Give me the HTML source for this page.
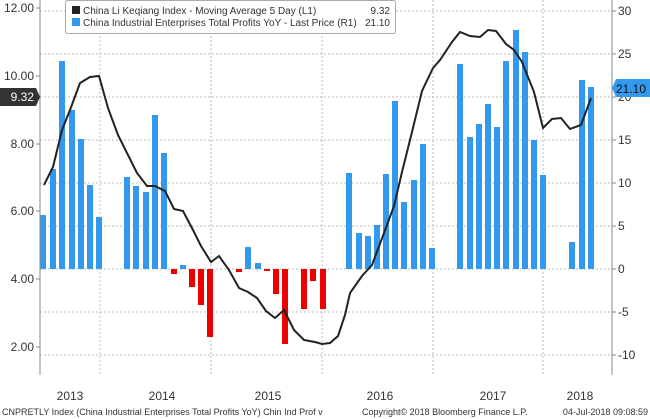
<!DOCTYPE html>
<html><head><style>
body{margin:0;background:#fff;}
svg{display:block;font-family:"Liberation Sans",sans-serif;}
</style></head><body>
<svg width="650" height="419" viewBox="0 0 650 419">
<rect width="650" height="419" fill="#fff"/>
<g stroke="#bbb" stroke-width="1" stroke-dasharray="2,2">
<line x1="40" x2="612" y1="11" y2="11"/><line x1="40" x2="612" y1="54" y2="54"/>
<line x1="40" x2="612" y1="97" y2="97"/><line x1="40" x2="612" y1="140" y2="140"/>
<line x1="40" x2="612" y1="183" y2="183"/><line x1="40" x2="612" y1="226" y2="226"/>
<line x1="40" x2="612" y1="269" y2="269"/><line x1="40" x2="612" y1="312" y2="312"/>
<line x1="40" x2="612" y1="355" y2="355"/>
<line x1="100" x2="100" y1="0" y2="375"/><line x1="211" x2="211" y1="0" y2="375"/>
<line x1="322" x2="322" y1="0" y2="375"/><line x1="433" x2="433" y1="0" y2="375"/>
<line x1="543" x2="543" y1="0" y2="375"/>
</g>
<g fill="#3399ee">
<rect x="40" y="215" width="6" height="54"/><rect x="50" y="169" width="6" height="100"/>
<rect x="59" y="61" width="6" height="208"/><rect x="69" y="110" width="6" height="159"/>
<rect x="78" y="139" width="6" height="130"/><rect x="87" y="185" width="6" height="84"/>
<rect x="96" y="217" width="6" height="52"/>
<rect x="124" y="177" width="6" height="92"/><rect x="133" y="186" width="6" height="83"/>
<rect x="143" y="192" width="6" height="77"/><rect x="152" y="115" width="6" height="154"/>
<rect x="161" y="153" width="6" height="116"/>
<rect x="180" y="265" width="6" height="4"/>
<rect x="245" y="247" width="6" height="22"/><rect x="255" y="263" width="6" height="6"/>
<rect x="346" y="173" width="6" height="96"/><rect x="356" y="233" width="6" height="36"/>
<rect x="365" y="236" width="6" height="33"/><rect x="374" y="225" width="6" height="44"/>
<rect x="383" y="174" width="6" height="95"/><rect x="392" y="101" width="6" height="168"/>
<rect x="401" y="202" width="6" height="67"/><rect x="411" y="180" width="6" height="89"/>
<rect x="420" y="144" width="6" height="125"/><rect x="429" y="248" width="6" height="21"/>
<rect x="457" y="64" width="6" height="205"/><rect x="467" y="137" width="6" height="132"/>
<rect x="476" y="124" width="6" height="145"/><rect x="485" y="104" width="6" height="165"/>
<rect x="494" y="127" width="6" height="142"/><rect x="503" y="61" width="6" height="208"/>
<rect x="513" y="30" width="6" height="239"/><rect x="522" y="52" width="6" height="217"/>
<rect x="531" y="140" width="6" height="129"/><rect x="540" y="175" width="6" height="94"/>
<rect x="569" y="242" width="6" height="27"/><rect x="579" y="80" width="6" height="189"/>
<rect x="588" y="87" width="6" height="182"/>
</g>
<g fill="#ee0000">
<rect x="171" y="269" width="6" height="5"/><rect x="189" y="269" width="6" height="18"/>
<rect x="198" y="269" width="6" height="36"/><rect x="207" y="269" width="6" height="68"/>
<rect x="236" y="269" width="6" height="3"/><rect x="264" y="269" width="6" height="2"/>
<rect x="273" y="269" width="6" height="25"/><rect x="282" y="269" width="6" height="75"/>
<rect x="301" y="269" width="6" height="40"/><rect x="310" y="269" width="6" height="12"/>
<rect x="320" y="269" width="6" height="40"/>
</g>
<polyline fill="none" stroke="#222" stroke-width="2" points="44,185 53,167 62,130 70,110 80,83 90,77 99,76 108,108 118,135 128,155 137,173 147,186 155,186 165,191 174,209 183,211 193,230 201,246 211,262 219,256 229,270 239,288 248,292 257,298 266,311 275,318 284,310 294,330 304,340 315,342 322,344 330,343 338,336 345,315 350,293 362,276 372,265 384,233 394,206 402,172 412,132 422,91 433,68 440,60 452,42 460,32 470,36 480,37 488,30 496,31 506,44 514,50 522,62 534,92 543,128 552,119 561,118 570,129 581,125 591,98"/>
<g stroke="#888" stroke-width="1">
<line x1="40" x2="40" y1="0" y2="375"/><line x1="612" x2="612" y1="0" y2="375"/>
<line x1="36" x2="40" y1="8" y2="8"/><line x1="36" x2="40" y1="76" y2="76"/>
<line x1="36" x2="40" y1="144" y2="144"/><line x1="36" x2="40" y1="211" y2="211"/>
<line x1="36" x2="40" y1="279" y2="279"/><line x1="36" x2="40" y1="347" y2="347"/>
<line x1="612" x2="616" y1="11" y2="11"/><line x1="612" x2="616" y1="54" y2="54"/>
<line x1="612" x2="616" y1="97" y2="97"/><line x1="612" x2="616" y1="140" y2="140"/>
<line x1="612" x2="616" y1="183" y2="183"/><line x1="612" x2="616" y1="226" y2="226"/>
<line x1="612" x2="616" y1="269" y2="269"/><line x1="612" x2="616" y1="312" y2="312"/>
<line x1="612" x2="616" y1="355" y2="355"/>
</g>
<g font-size="12" fill="#333" text-anchor="end">
<text x="34" y="12">12.00</text><text x="34" y="80">10.00</text>
<text x="34" y="148">8.00</text><text x="34" y="215">6.00</text>
<text x="34" y="283">4.00</text><text x="34" y="351">2.00</text>
</g>
<g font-size="12" fill="#333">
<text x="618" y="15">30</text><text x="618" y="58">25</text><text x="618" y="101">20</text>
<text x="618" y="144">15</text><text x="618" y="187">10</text><text x="618" y="230">5</text>
<text x="618" y="273">0</text><text x="618" y="316">-5</text><text x="618" y="359">-10</text>
</g>
<path d="M0,88 H36 L40,97 L36,106 H0 Z" fill="#333"/>
<text x="34" y="101" font-size="12" fill="#fff" text-anchor="end">9.32</text>
<path d="M616,79 H650 V97 H616 L612,88 Z" fill="#3399ee"/>
<text x="616" y="93" font-size="12" fill="#111">21.10</text>
<rect x="65.5" y="0.5" width="330" height="33" fill="#fff" stroke="#aaa" rx="2"/>
<rect x="72" y="6" width="8" height="8" fill="#222"/>
<rect x="72" y="18" width="8" height="8" fill="#3399ee"/>
<g font-size="10" fill="#333">
<text x="83" y="14">China Li Keqiang Index - Moving Average 5 Day (L1)</text>
<text x="83" y="26">China Industrial Enterprises Total Profits YoY - Last Price (R1)</text>
<text x="390" y="14" text-anchor="end">9.32</text>
<text x="390" y="26" text-anchor="end">21.10</text>
</g>
<g font-size="12" fill="#333" text-anchor="middle">
<text x="70" y="400">2013</text><text x="162" y="400">2014</text><text x="268" y="400">2015</text>
<text x="380" y="400">2016</text><text x="493" y="400">2017</text><text x="580" y="400">2018</text>
</g>
<g font-size="9" fill="#333">
<text x="2" y="415">CNPRETLY Index (China Industrial Enterprises Total Profits YoY) Chin Ind Prof v</text>
<text x="362" y="415">Copyright© 2018 Bloomberg Finance L.P.</text>
<text x="648" y="415" text-anchor="end">04-Jul-2018 09:08:59</text>
</g>
</svg>
</body></html>
